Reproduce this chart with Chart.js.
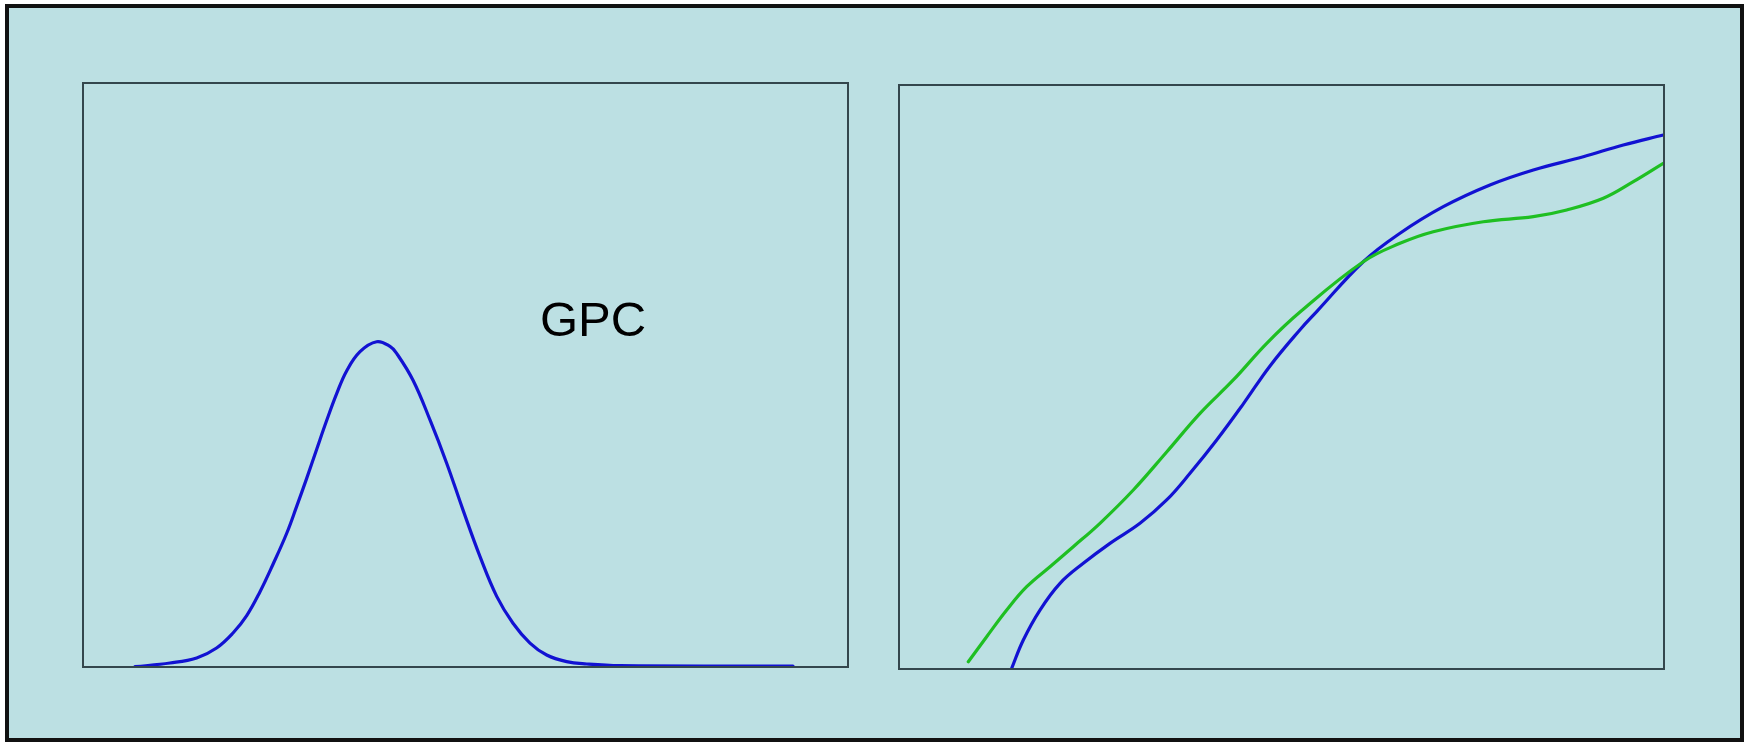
<!DOCTYPE html>
<html>
<head>
<meta charset="utf-8">
<title>GPC</title>
<script src="https://cdn.jsdelivr.net/npm/chart.js@4.4.1/dist/chart.umd.min.js"></script>
<style>
    body {
        margin: 0;
        background: #ffffff;
        width: 1747px;
        height: 742px;
        overflow: hidden;
        position: relative;
    }
    #marco {
        position: absolute;
        left: 5px;
        top: 4px;
        width: 1731px;
        height: 730px;
        border: 4px solid #111111;
        background: #bce0e3;
    }
    canvas {
        position: absolute;
    }
    #graficoGpc {
        left: 73px;
        top: 73px;
    }
    #graficoCalibracion {
        left: 889px;
        top: 75px;
    }
    #etiqueta {
        position: absolute;
        left: 540px;
        top: 295px;
        font-family: "Liberation Sans", Arial, sans-serif;
        font-size: 49px;
        line-height: 49px;
        color: #000000;
    }
</style>
</head>
<body>
<div id="marco"></div>
<canvas id="graficoGpc" width="785" height="604"></canvas>
<canvas id="graficoCalibracion" width="785" height="604"></canvas>
<div id="etiqueta">GPC</div>

<script>
// Left panel: GPC trace
const gpcX = [6.8, 11.37, 14.86, 17.46, 19.61, 21.4, 23.14, 24.84, 26.63, 27.93, 29.24, 30.55, 31.85, 33.16, 34.46, 36.21, 38.39, 40.13, 41.0, 43.14, 45.36, 47.54, 49.67, 51.9, 54.08, 56.21, 58.43, 60.61, 63.22, 65.84, 70.2, 92.81];
const gpcY = [0.05, 0.68, 1.54, 3.25, 5.82, 8.8, 12.9, 17.6, 22.9, 27.5, 32.3, 37.3, 42.2, 46.8, 50.7, 54.0, 55.7, 54.9, 53.7, 49.1, 42.3, 34.9, 26.9, 18.9, 12.1, 7.5, 4.1, 2.05, 0.91, 0.51, 0.22, 0.17];

// Right panel: two curves
const azulX = [14.73, 16.25, 18.43, 21.05, 24.09, 27.58, 31.5, 34.99, 38.04, 41.53, 45.01, 48.5, 52.42, 54.6, 60.69, 65.49, 71.15, 77.25, 82.92, 89.45, 94.68, 99.91];
const azulY = [0.12, 4.97, 10.1, 14.67, 18.1, 21.52, 24.95, 28.94, 33.51, 39.21, 45.4, 51.9, 58.1, 61.2, 69.74, 74.61, 79.16, 82.88, 85.45, 87.72, 89.73, 91.44];
const verdeX = [9.06, 11.46, 14.08, 16.69, 19.74, 22.78, 26.27, 30.63, 34.99, 39.35, 43.7, 48.07, 52.42, 60.69, 65.49, 69.84, 76.38, 82.92, 87.28, 92.07, 95.99, 99.91];
const verdeY = [1.25, 5.53, 10.1, 14.09, 17.52, 20.94, 24.95, 30.65, 37.16, 43.78, 49.49, 55.77, 61.13, 69.74, 72.89, 74.88, 76.59, 77.45, 78.6, 80.6, 83.44, 86.59];

const colorAzul = '#1212d2';
const colorVerde = '#1fbf22';

// draws the dark frame around the plot area
const bordePanel = {
    id: 'bordePanel',
    afterDraw(chart) {
        const a = chart.chartArea;
        const ctx = chart.ctx;
        ctx.save();
        ctx.strokeStyle = '#34474d';
        ctx.lineWidth = 2;
        ctx.strokeRect(a.left, a.top, a.right - a.left, a.bottom - a.top);
        ctx.restore();
    }
};

function puntos(xs, ys) {
    return xs.map((x, i) => ({ x: x, y: ys[i] }));
}

function serie(xs, ys, color) {
    return {
        data: puntos(xs, ys),
        borderColor: color,
        borderWidth: 3.2,
        pointRadius: 0,
        fill: false,
        tension: 0.4,
        borderCapStyle: 'round',
        borderJoinStyle: 'round'
    };
}

function opciones() {
    return {
        responsive: false,
        animation: false,
        layout: { padding: 10 },
        plugins: {
            legend: { display: false },
            tooltip: { enabled: false }
        },
        scales: {
            x: { type: 'linear', min: 0, max: 100, display: false },
            y: { type: 'linear', min: 0, max: 100, display: false }
        }
    };
}

function crearGraficoGpc() {
    const ctx = document.getElementById('graficoGpc').getContext('2d');
    new Chart(ctx, {
        type: 'line',
        data: { datasets: [serie(gpcX, gpcY, colorAzul)] },
        options: opciones(),
        plugins: [bordePanel]
    });
}

function crearGraficoCalibracion() {
    const ctx = document.getElementById('graficoCalibracion').getContext('2d');
    new Chart(ctx, {
        type: 'line',
        data: {
            datasets: [
                serie(verdeX, verdeY, colorVerde),
                serie(azulX, azulY, colorAzul)
            ]
        },
        options: opciones(),
        plugins: [bordePanel]
    });
}

crearGraficoGpc();
crearGraficoCalibracion();
</script>
</body>
</html>
